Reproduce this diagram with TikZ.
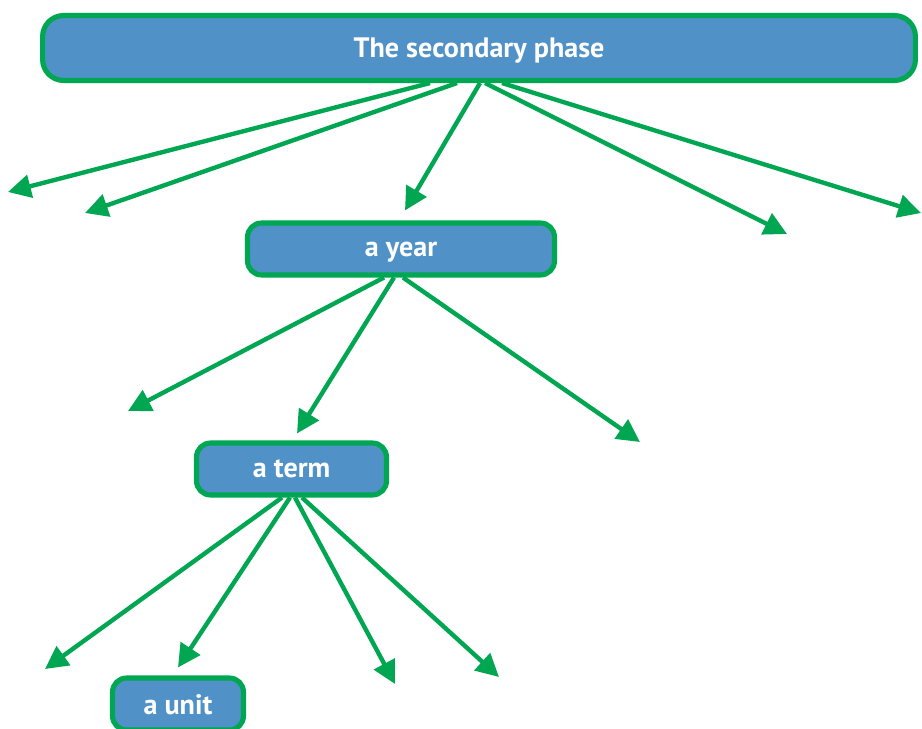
\documentclass[tikz,border=0pt]{standalone}
\usepackage{fontspec}
\setmainfont{PT Sans}
\usepackage{xcolor}
\usetikzlibrary{arrows.meta, positioning, calc}

\definecolor{boxblue}{RGB}{80,146,200}
\definecolor{linkgreen}{RGB}{0,166,81}

\begin{document}
\begin{tikzpicture}[x=0.02cm, y=-0.02cm,
  box/.style={draw=linkgreen, line width=2.9pt, fill=boxblue, rounded corners=8pt,
    text=white, font=\bfseries\fontsize{16}{19}\selectfont, inner sep=0pt,
    text depth=0pt, minimum height=1.04cm},
  link/.style={draw=linkgreen, line width=2.5pt, -{Triangle[length=13pt,width=13pt]}}]
  \useasboundingbox (0,0) rectangle (922,729);

  % Boxes
  \node[box, minimum width=17.46cm, minimum height=1.3cm, rounded corners=12pt] (phase) at (479,48) {The secondary phase};
  \node[box, minimum width=6.14cm] (year) at (401,249) {a year};
  \node[box, minimum width=3.8cm] (term) at (291.5,469) {a term};
  \node[box, minimum width=2.62cm] (unit) at (178,704) {a unit};

  % Free ends
  \coordinate (p1) at (8,192);
  \coordinate (p2) at (85,213);
  \coordinate (p4) at (787,234);
  \coordinate (p5) at (921,213);
  \coordinate (y1) at (128,411);
  \coordinate (y3) at (640,442);
  \coordinate (t1) at (45,669);
  \coordinate (t3) at (395,684);
  \coordinate (t4) at (499,677);

  % From the phase
  \draw[link] ($(phase.south)+(-49,0)$) -- (p1);
  \draw[link] ($(phase.south)+(-22,0)$) -- (p2);
  \draw[link] ($(phase.south)+(1,0)$) -- ([shift={(4,-10)}]year.north);
  \draw[link] ($(phase.south)+(6,0)$) -- (p4);
  \draw[link] ($(phase.south)+(23,0)$) -- (p5);

  % From the year
  \draw[link] ($(year.south)+(-17,0)$) -- (y1);
  \draw[link] ($(year.south)+(-7,0)$) -- ([shift={(5.5,-7)}]term.north);
  \draw[link] ($(year.south)+(2,0)$) -- (y3);

  % From the term
  \draw[link] ($(term.south)+(-9.5,0)$) -- (t1);
  \draw[link] ($(term.south)+(-1.5,0)$) -- ([shift={(0,-8)}]unit.north);
  \draw[link] ($(term.south)+(3.5,0)$) -- (t3);
  \draw[link] ($(term.south)+(10.5,0)$) -- (t4);
\end{tikzpicture}
\end{document}
